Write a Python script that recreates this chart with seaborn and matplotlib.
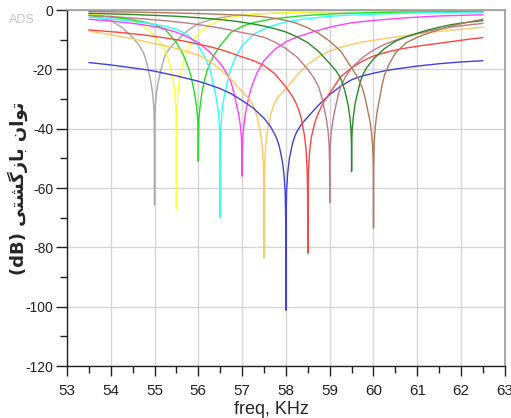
import matplotlib
matplotlib.use("Agg")
import matplotlib.pyplot as plt
import numpy as np
import pandas as pd
import seaborn as sns
from matplotlib.ticker import MultipleLocator

# frequency grid (kHz) used for the broad part of every curve
freq_grid = [53.5, 53.75, 54.0, 54.25, 54.5, 54.75, 55.0, 55.25, 55.5, 55.75,
             56.0, 56.25, 56.5, 56.75, 57.0, 57.25, 57.5, 57.75, 58.0, 58.25,
             58.5, 58.75, 59.0, 59.25, 59.5, 59.75, 60.0, 60.25, 60.5, 60.75,
             61.0, 61.25, 61.5, 61.75, 62.0, 62.25, 62.5]
# extra points around each resonance (offset from centre, kHz)
notch_offsets = [-0.35, -0.2, -0.15, -0.08, -0.04, -0.015, -0.004, 0.0,
                 0.004, 0.015, 0.04, 0.08, 0.15, 0.2, 0.35]

curve_names = ["55.0", "55.5", "56.0", "56.5", "57.0", "57.5", "58.0", "58.5", "59.0", "59.5", "60.0"]
centers = [55.0, 55.5, 56.0, 56.5, 57.0, 57.5, 58.0, 58.5, 59.0, 59.5, 60.0]
colors = ["#a8a8a8", "#ffff30", "#22dd22", "#30ffff", "#ff40ff", "#ffc860",
          "#4040e0", "#ff4444", "#c07a8a", "#2a8a2a", "#b07a5a"]

# return loss (dB) on freq_grid; None = resonance point (given in notch list)
gray_grid = [-1.8, -2.5, -3.6, -5.8, -9.2, -14.5, None, -15.0, -10.5, -7.0,
             -4.6, -3.4, -2.6, -2.1, -1.7, -1.45, -1.2, -1.05, -0.9, -0.82,
             -0.75, -0.67, -0.6, -0.55, -0.5, -0.47, -0.45, -0.42, -0.4, -0.37,
             -0.35, -0.33, -0.3, -0.3, -0.3, -0.3, -0.3]
yellow_grid = [-1.4, -1.65, -2.0, -2.6, -3.6, -5.5, -8.8, -14.0, None, -13.5,
               -8.0, -5.0, -3.3, -2.4, -1.8, -1.45, -1.2, -1.05, -0.9, -0.8,
               -0.7, -0.62, -0.55, -0.5, -0.45, -0.42, -0.4, -0.37, -0.35, -0.32,
               -0.3, -0.3, -0.28, -0.27, -0.26, -0.25, -0.25]
green_grid = [-1.8, -2.05, -2.4, -2.8, -3.3, -4.0, -4.9, -6.6, -11.0, -18.5,
              None, -18.5, -12.0, -7.5, -5.5, -4.3, -3.5, -2.9, -2.5, -2.1,
              -1.8, -1.55, -1.35, -1.2, -1.05, -0.95, -0.85, -0.8, -0.72, -0.68,
              -0.65, -0.62, -0.6, -0.57, -0.55, -0.52, -0.5]
cyan_grid = [-2.4, -2.7, -3.0, -3.4, -3.8, -4.3, -4.8, -5.5, -6.5, -8.3,
             -12.0, -19.5, None, -19.5, -12.0, -8.3, -6.3, -5.0, -4.0, -3.4,
             -2.9, -2.5, -2.1, -1.9, -1.7, -1.55, -1.4, -1.3, -1.2, -1.1,
             -1.0, -0.95, -0.9, -0.88, -0.85, -0.82, -0.8]
magenta_grid = [-3.1, -3.4, -3.7, -4.1, -4.5, -5.0, -5.6, -6.4, -7.5, -9.0,
                -11.0, -14.0, -18.0, -24.5, None, -24.5, -17.0, -13.2, -10.7, -9.1,
                -7.9, -6.8, -5.8, -5.0, -4.3, -3.9, -3.5, -3.2, -2.9, -2.6,
                -2.4, -2.2, -2.0, -1.9, -1.8, -1.7, -1.6]
orange_grid = [-7.1, -7.7, -8.3, -9.0, -9.7, -10.5, -11.3, -12.1, -13.0, -14.0,
               -15.2, -17.2, -20.0, -23.5, -27.5, -32.0, None, -31.0, -26.5, -22.0,
               -18.3, -15.7, -13.8, -12.6, -11.6, -10.8, -10.2, -9.6, -9.1, -8.6,
               -8.1, -7.6, -7.2, -6.8, -6.5, -6.1, -5.8]
blue_grid = [-17.7, -18.1, -18.5, -19.0, -19.5, -20.0, -20.6, -21.4, -22.2, -23.1,
             -24.0, -25.2, -26.5, -28.2, -30.5, -33.0, -36.5, -42.0, None, -41.0,
             -36.0, -32.0, -28.5, -25.7, -23.5, -22.2, -21.3, -20.5, -19.9, -19.4,
             -18.9, -18.5, -18.1, -17.8, -17.5, -17.3, -17.1]
red_grid = [-6.7, -7.0, -7.3, -7.6, -8.0, -8.4, -8.9, -9.4, -10.0, -10.7,
            -11.5, -12.3, -13.3, -14.5, -15.8, -17.0, -18.7, -21.5, -26.0, -32.0,
            None, -34.5, -28.0, -22.5, -19.5, -17.2, -15.5, -14.4, -13.5, -12.8,
            -12.2, -11.7, -11.2, -10.7, -10.2, -9.7, -9.3]
rosy_grid = [-1.8, -2.0, -2.2, -2.45, -2.7, -3.0, -3.3, -3.6, -4.0, -4.4,
             -4.9, -5.5, -6.1, -6.8, -7.6, -8.3, -9.2, -10.8, -13.0, -15.8,
             -20.0, -26.0, None, -26.0, -19.5, -16.0, -13.5, -11.6, -10.2, -9.0,
             -8.0, -7.1, -6.4, -5.8, -5.3, -4.9, -4.5]
dkgreen_grid = [-1.1, -1.2, -1.3, -1.4, -1.5, -1.65, -1.8, -1.95, -2.1, -2.35,
                -2.6, -2.9, -3.2, -3.6, -4.1, -4.7, -5.4, -6.3, -7.4, -9.0,
                -11.0, -14.0, -18.0, -23.0, None, -22.0, -16.5, -13.0, -10.5, -9.0,
                -7.8, -6.7, -5.8, -5.0, -4.4, -4.0, -3.6]
brown_grid = [-0.5, -0.55, -0.6, -0.65, -0.7, -0.78, -0.85, -0.92, -1.0, -1.1,
              -1.2, -1.3, -1.45, -1.6, -1.75, -2.0, -2.3, -2.8, -3.5, -4.5,
              -6.0, -7.9, -10.5, -13.8, -19.5, -26.5, None, -22.0, -14.5, -11.0,
              -9.2, -7.8, -6.6, -5.5, -4.6, -3.8, -3.1]

# return loss (dB) at centre + notch_offsets
gray_notch = [-11.9, -16.7, -19.5, -24.5, -28.5, -33, -39, -65.7,
              -39, -33, -28.5, -24.5, -20, -17.2, -12.8]
yellow_notch = [-11.5, -16.0, -18.5, -23, -27.5, -32.5, -40, -67.3,
                -40, -32.5, -27, -22.5, -18, -15.5, -10.8]
green_notch = [-14.9, -20.7, -23.5, -28.5, -32.5, -36.5, -41, -51,
               -41, -36.5, -32.5, -28, -23, -20.5, -15.3]
cyan_notch = [-15.9, -22.1, -25.5, -30.5, -34.5, -39.5, -46, -70,
              -46, -39.5, -34.5, -30, -25, -21.9, -15.9]
magenta_notch = [-21.3, -27.1, -30.5, -35, -39, -43, -48, -56,
                 -48, -43, -39, -34.5, -29.5, -26.7, -20.9]
orange_notch = [-29.8, -34.0, -36.5, -41.5, -46, -52, -62, -83.6,
                -62, -52, -45.5, -40.5, -35.5, -33.0, -28.8]
blue_notch = [-39.3, -43.7, -46, -51, -56, -62, -72, -101.2,
              -71, -61, -55, -50, -45, -42.7, -38.6]
red_notch = [-29.1, -34.0, -36.5, -42, -47, -54, -63, -82,
             -63, -54, -48, -43, -38.5, -36.2, -31.3]
rosy_notch = [-23.1, -28.4, -31.5, -36.5, -40.5, -45, -51, -65,
              -51, -45, -40.5, -36.5, -31.5, -28.4, -22.8]
dkgreen_notch = [-20.6, -25.0, -27.5, -32, -36, -40, -44.5, -54.4,
                 -44.5, -40, -36, -31.5, -27, -24.2, -19.3]
brown_notch = [-22.9, -29.1, -32.5, -37.5, -42, -47, -54, -73.5,
               -54, -45, -39.5, -34.5, -29, -25.1, -18.4]

grids = [gray_grid, yellow_grid, green_grid, cyan_grid, magenta_grid, orange_grid,
         blue_grid, red_grid, rosy_grid, dkgreen_grid, brown_grid]
notches = [gray_notch, yellow_notch, green_notch, cyan_notch, magenta_notch, orange_notch,
           blue_notch, red_notch, rosy_notch, dkgreen_notch, brown_notch]


def build_frame():
    rows = []
    for name, c, g, n in zip(curve_names, centers, grids, notches):
        for f, v in zip(freq_grid, g):
            if v is not None:
                rows.append({"curve": name, "freq": f, "db": v})
        for off, v in zip(notch_offsets, n):
            rows.append({"curve": name, "freq": round(c + off, 4), "db": v})
    df = pd.DataFrame(rows)
    return df.sort_values(["curve", "freq"]).reset_index(drop=True)


df = build_frame()

sns.set_style("white")
plt.rcParams["font.family"] = ["Liberation Sans", "DejaVu Sans"]
plt.rcParams["axes.unicode_minus"] = False

fig = plt.figure(figsize=(5.11, 4.18), dpi=100)
ax = fig.add_axes([0.131, 0.1244, 0.857, 0.8516])

sns.lineplot(data=df, x="freq", y="db", hue="curve", hue_order=curve_names,
             palette=colors, estimator=None, legend=False, linewidth=1.0, ax=ax)

ax.set_xlim(53, 63)
ax.set_ylim(-120, 0)
ax.xaxis.set_major_locator(MultipleLocator(1))
ax.xaxis.set_minor_locator(MultipleLocator(0.5))
ax.yaxis.set_major_locator(MultipleLocator(20))
ax.yaxis.set_minor_locator(MultipleLocator(10))
ax.grid(True, which="major", color="#d6d6d6", linewidth=1.0)
ax.set_axisbelow(True)

ax.tick_params(axis="x", which="major", direction="out", length=7, width=1, labelsize=11, pad=6)
ax.tick_params(axis="x", which="minor", direction="out", length=5, width=1)
ax.tick_params(axis="y", which="major", direction="out", length=8, width=1, labelsize=10, pad=2)
ax.tick_params(axis="y", which="minor", direction="out", length=5, width=1)
ax.tick_params(which="both", bottom=True, left=True, colors="#222222")

for side in ["left", "bottom"]:
    ax.spines[side].set_color("#222222")
    ax.spines[side].set_linewidth(1.0)
for side in ["top", "right"]:
    ax.spines[side].set_color("#9a9a9a")
    ax.spines[side].set_linewidth(1.2)

ax.set_xlabel("freq, KHz", fontsize=13)
ax.xaxis.set_label_coords(0.466, -0.097)

# "توان بازگشتی (dB)" written in shaped visual order
ylabel = "(dB) " + "\uFBFD\uFE98\uFEB8\uFB94\uFEAF\uFE8E\uFE91" + " " + "\uFEE5\uFE8D\uFEEE\uFE97"
ax.set_ylabel(ylabel, fontsize=13, fontweight="bold", family=["DejaVu Sans"])
ax.yaxis.set_label_coords(-0.09, 0.5)

fig.text(0.018, 0.945, "ADS", fontsize=9, color="#c4c4c4")

fig.savefig("out.png", dpi=100)
